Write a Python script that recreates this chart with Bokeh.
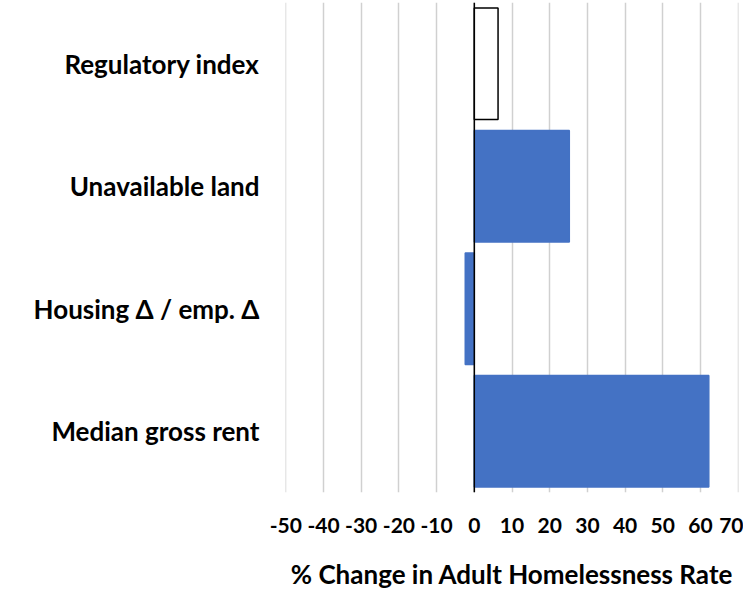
from bokeh.plotting import figure
from bokeh.models import Range1d, FactorRange, FixedTicker, Span, ColumnDataSource, CustomJSTickFormatter
from bokeh.embed import file_html
from bokeh.resources import INLINE

categories = ["Regulatory index", "Unavailable land", "Housing Δ / emp. Δ", "Median gross rent"]
values = [6.3, 25.2, -2.4, 62.2]
significant = [False, True, True, True]
x_ticks = [-50, -40, -30, -20, -10, 0, 10, 20, 30, 40, 50, 60, 70]
x_title = "% Change in Adult Homelessness Rate"

BLUE = "#4472C4"
fills = [BLUE if s else "white" for s in significant]
lines = [BLUE if s else "black" for s in significant]

src = ColumnDataSource(dict(cat=categories, val=values, fill=fills, line=lines))

FONT = "Lato"

p = figure(width=743, height=592, output_backend="svg", toolbar_location=None,
           x_range=Range1d(-50.08, 70.08),
           y_range=FactorRange(factors=list(reversed(categories)), range_padding=0),
           min_border_left=285, min_border_right=5, min_border_top=2, min_border_bottom=94)

p.hbar(y="cat", left=0, right="val", height=0.91, source=src,
       fill_color="fill", line_color="line", line_width=1.5)

p.add_layout(Span(location=0, dimension="height", line_color="black", line_width=1.5))

p.outline_line_color = None
p.background_fill_color = "white"
p.border_fill_color = "white"

p.xaxis.ticker = FixedTicker(ticks=x_ticks)
p.xaxis.formatter = CustomJSTickFormatter(code="return String(Math.round(tick));")
p.xaxis.axis_line_color = None
p.xaxis.major_tick_line_color = None
p.xaxis.minor_tick_line_color = None
p.xaxis.major_label_text_font = FONT
p.xaxis.major_label_text_font_style = "bold"
p.xaxis.major_label_text_font_size = "21px"
p.xaxis.major_label_text_color = "black"
p.xaxis.major_label_standoff = 19
p.xaxis.axis_label = x_title
p.xaxis.axis_label_text_font = FONT
p.xaxis.axis_label_text_font_style = "bold"
p.xaxis.axis_label_text_font_size = "26px"
p.xaxis.axis_label_text_color = "black"
p.xaxis.axis_label_standoff = 22

p.yaxis.axis_line_color = None
p.yaxis.major_tick_line_color = None
p.yaxis.minor_tick_line_color = None
p.yaxis.major_label_text_font = FONT
p.yaxis.major_label_text_font_style = "bold"
p.yaxis.major_label_text_font_size = "26px"
p.yaxis.major_label_text_color = "black"
p.yaxis.major_label_standoff = 20

p.xgrid.grid_line_color = "#D0D0D0"
p.xgrid.grid_line_width = 1.5
p.ygrid.grid_line_color = None

open("out.html", "w").write(file_html(p, INLINE))
